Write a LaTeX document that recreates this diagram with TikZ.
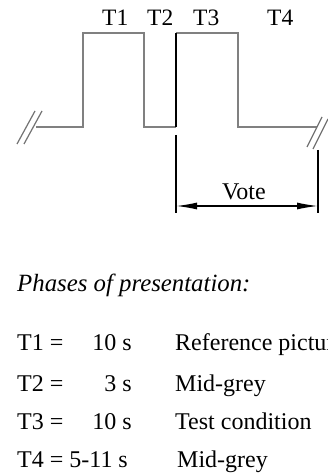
\documentclass[tikz,border=0pt]{standalone}
\usepackage{fontspec}
\setmainfont{Liberation Serif}
\usetikzlibrary{arrows.meta}
\tikzset{
  wave/.style={draw=black!50, line width=1.2pt},
  blk/.style={draw=black, line width=1.6pt},
  brk/.style={draw=black!55, line width=1.2pt},
  lbl/.style={inner sep=0pt, anchor=base west, font=\fontsize{24}{28}\selectfont},
  lble/.style={inner sep=0pt, anchor=base east, font=\fontsize{24}{28}\selectfont},
  toplbl/.style={inner sep=0pt, anchor=base west, font=\fontsize{23.5}{28}\selectfont},
  dimarrow/.style={draw=black, line width=1.4pt, {Latex[length=21pt,width=7pt]}-{Latex[length=21pt,width=7pt]}}
}
\begin{document}
\begin{tikzpicture}[x=1pt,y=-1pt]
\useasboundingbox (0,0) rectangle (328,473);
% waveform coordinates
\coordinate (w0) at (36,127);
\coordinate (w1) at (83,127);
\coordinate (w2) at (83,33);
\coordinate (w3) at (144,33);
\coordinate (w4) at (144,127);
\coordinate (w5) at (176,127);
\coordinate (w6) at (176,33);
\coordinate (w7) at (238,33);
\coordinate (w8) at (238,127);
\coordinate (w9) at (317,127);
\draw[wave] (w0) -- (w1) -- (w2) -- (w3) -- (w4) -- (w5);
\draw[wave] (w6) -- (w7) -- (w8) -- (w9);
\draw[blk] (w5) -- (w6);
% break marks
\draw[brk] (17,144) -- (35,111);
\draw[brk] (24,144) -- (42,111);
\draw[brk] (307,147) -- (322,117);
\draw[brk] (313,149) -- (328,119);
% vote dimension
\coordinate (v1t) at (176,135);
\coordinate (v1b) at (176,213);
\coordinate (v2t) at (318,150);
\coordinate (v2b) at (318,213);
\draw[blk] (v1t) -- (v1b);
\draw[blk] (v2t) -- (v2b);
\coordinate (a1) at (176,206);
\coordinate (a2) at (318,206);
\draw[dimarrow] (a1) -- (a2);
\node[lbl] (vote) at (222,199) {Vote};
% top labels
\node[toplbl] (t1) at (102,26) {T1};
\node[toplbl] (t2) at (147,26) {T2};
\node[toplbl] (t3) at (193,26) {T3};
\node[toplbl] (t4) at (267,26) {T4};
% legend
\node[lbl, font=\fontsize{24.8}{28}\selectfont\itshape] (ph) at (17,291) {Phases of presentation:};
\node[lbl] (r1a) at (17,350) {T1 =};
\node[lble] (r1b) at (132,350) {10 s};
\node[lbl] (r1c) at (175,350) {Reference picture};
\node[lbl] (r2a) at (17,391) {T2 =};
\node[lble] (r2b) at (132,391) {3 s};
\node[lbl] (r2c) at (175,391) {Mid-grey};
\node[lbl] (r3a) at (17,429) {T3 =};
\node[lble] (r3b) at (132,429) {10 s};
\node[lbl] (r3c) at (175,429) {Test condition};
\node[lbl] (r4a) at (17,467) {T4 = 5-11 s};
\node[lbl] (r4c) at (177,467) {Mid-grey};
\end{tikzpicture}
\end{document}
